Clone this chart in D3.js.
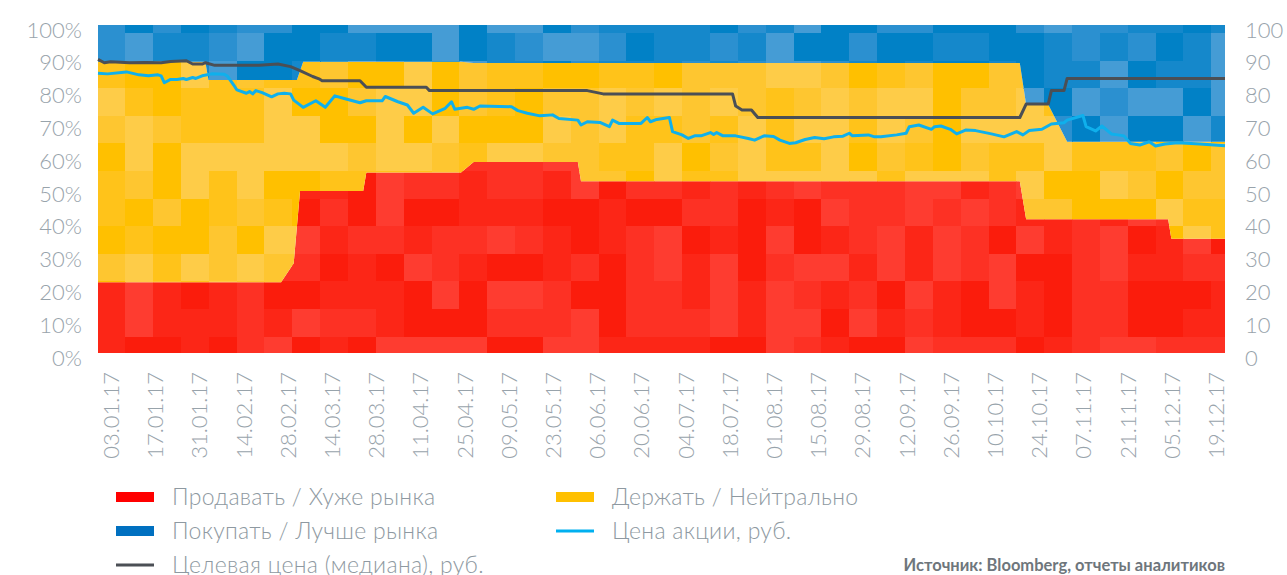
<!DOCTYPE html>
<html>
<head>
<meta charset="utf-8">
<script src="https://cdn.jsdelivr.net/npm/d3@7"></script>
<style>
  body { margin: 0; background: #fff; }
  text { font-family: Lato, 'Open Sans', sans-serif; }
</style>
</head>
<body>
<svg id="chart" width="1287" height="575"></svg>
<script>
const WIDTH = 1287;
const HEIGHT = 575;
const margin = { top: 25, right: 62, bottom: 222, left: 98 };

// Распределение рекомендаций, %
const ratingDates = ['2016-12-30', '2017-02-02', '2017-02-03', '2017-02-26', '2017-03-02', '2017-03-03',
  '2017-03-04', '2017-03-05', '2017-03-24', '2017-03-25', '2017-04-24', '2017-04-28', '2017-05-31',
  '2017-06-01', '2017-10-18', '2017-10-20', '2017-10-27', '2017-11-02', '2017-12-04', '2017-12-05', '2017-12-22'];
const sellPct = [21.6, 21.6, 21.6, 21.6, 27.4, 38.4, 49.4, 49.4, 49.4, 55.0, 55.0, 58.2, 58.2,
  52.4, 52.4, 40.8, 40.8, 40.8, 40.8, 34.8, 34.8];
const holdPct = [67.2, 67.2, 61.6, 61.6, 55.8, 44.8, 36.6, 39.4, 39.4, 33.8, 33.8, 30.2, 30.2,
  36.0, 36.0, 35.0, 35.0, 23.6, 23.6, 29.6, 29.6];
const buyPct = [11.2, 11.2, 16.8, 16.8, 16.8, 16.8, 14.0, 11.2, 11.2, 11.2, 11.2, 11.6, 11.6,
  11.6, 11.6, 24.2, 24.2, 35.6, 35.6, 35.6, 35.6];

// Цена акции, руб.
const priceDates = ['2016-12-30', '2017-01-02', '2017-01-08', '2017-01-12', '2017-01-15', '2017-01-18',
  '2017-01-19', '2017-01-20', '2017-01-22', '2017-01-24', '2017-01-26', '2017-01-27', '2017-01-29',
  '2017-01-30', '2017-02-01', '2017-02-04', '2017-02-08', '2017-02-09', '2017-02-11', '2017-02-12',
  '2017-02-15', '2017-02-16', '2017-02-17', '2017-02-18', '2017-02-20', '2017-02-23', '2017-02-25',
  '2017-02-27', '2017-03-01', '2017-03-02', '2017-03-05', '2017-03-09', '2017-03-12', '2017-03-15',
  '2017-03-18', '2017-03-23', '2017-03-25', '2017-03-30', '2017-03-31', '2017-04-04', '2017-04-07',
  '2017-04-09', '2017-04-12', '2017-04-15', '2017-04-19', '2017-04-21', '2017-04-22', '2017-04-26',
  '2017-04-28', '2017-04-30', '2017-05-10', '2017-05-12', '2017-05-15', '2017-05-19', '2017-05-23',
  '2017-05-25', '2017-05-31', '2017-06-01', '2017-06-03', '2017-06-07', '2017-06-10', '2017-06-11',
  '2017-06-13', '2017-06-20', '2017-06-22', '2017-06-23', '2017-06-25', '2017-06-29', '2017-06-30',
  '2017-07-03', '2017-07-05', '2017-07-07', '2017-07-09', '2017-07-12', '2017-07-13', '2017-07-14',
  '2017-07-16', '2017-07-20', '2017-07-24', '2017-07-26', '2017-07-29', '2017-08-01', '2017-08-03',
  '2017-08-06', '2017-08-08', '2017-08-11', '2017-08-14', '2017-08-17', '2017-08-20', '2017-08-23',
  '2017-08-25', '2017-08-26', '2017-08-31', '2017-09-02', '2017-09-04', '2017-09-09', '2017-09-12',
  '2017-09-13', '2017-09-16', '2017-09-20', '2017-09-21', '2017-09-23', '2017-09-26', '2017-09-28',
  '2017-10-01', '2017-10-04', '2017-10-09', '2017-10-13', '2017-10-17', '2017-10-19', '2017-10-21',
  '2017-10-25', '2017-10-28', '2017-11-01', '2017-11-02', '2017-11-07', '2017-11-08', '2017-11-11',
  '2017-11-13', '2017-11-16', '2017-11-18', '2017-11-20', '2017-11-22', '2017-11-25', '2017-11-28',
  '2017-11-30', '2017-12-03', '2017-12-07', '2017-12-14', '2017-12-22'];
const priceValues = [85.3, 85.1, 85.7, 84.8, 84.5, 84.8,
  84.5, 82.4, 83.4, 83.4, 83.7, 83.4, 84.0,
  83.7, 84.5, 85.1, 85.0, 84.4, 81.7, 80.2,
  79.2, 79.7, 79.0, 80.0, 79.4, 78.1, 79.0,
  79.2, 79.0, 77.1, 74.9, 76.9, 74.9, 78.4,
  77.6, 76.3, 76.9, 76.9, 78.2, 76.6, 75.6,
  73.1, 74.9, 72.9, 74.6, 76.6, 74.3, 74.9,
  74.3, 75.3, 75.1, 73.9, 73.1, 72.3, 72.6,
  71.5, 71.0, 69.5, 70.5, 70.3, 69.0, 71.0,
  70.0, 70.0, 71.8, 70.5, 71.2, 71.8, 67.5,
  66.5, 65.4, 66.2, 66.2, 67.2, 66.6, 67.2,
  66.2, 66.2, 65.4, 64.9, 66.2, 66.0, 64.9,
  63.9, 64.1, 65.1, 65.7, 65.3, 65.9, 66.1,
  67.0, 66.2, 66.5, 65.9, 65.9, 66.5, 67.0,
  69.0, 69.5, 68.2, 69.0, 69.2, 68.2, 66.8,
  68.0, 67.8, 66.8, 65.9, 67.5, 66.5, 67.8,
  68.2, 69.8, 70.2, 71.0, 72.4, 69.0, 67.7,
  69.2, 66.8, 66.5, 66.2, 63.9, 63.4, 64.4,
  63.1, 63.7, 64.1, 63.7, 63.2];

// Целевая цена (медиана), руб.
const targetDates = ['2016-12-30', '2017-01-01', '2017-01-03', '2017-01-09', '2017-01-14', '2017-01-19',
  '2017-01-22', '2017-01-27', '2017-01-29', '2017-02-01', '2017-02-02', '2017-02-05', '2017-02-19',
  '2017-02-25', '2017-03-01', '2017-03-04', '2017-03-08', '2017-03-10', '2017-03-11', '2017-03-23',
  '2017-03-25', '2017-04-13', '2017-04-14', '2017-06-03', '2017-06-08', '2017-07-19', '2017-07-20',
  '2017-07-22', '2017-07-25', '2017-07-27', '2017-10-18', '2017-10-20', '2017-10-27', '2017-10-28',
  '2017-11-01', '2017-11-02', '2017-12-22'];
const targetValues = [89.5, 88.5, 88.8, 88.5, 88.6, 88.5,
  88.9, 89.1, 88.1, 88.1, 88.5, 87.7, 87.7,
  88.1, 87.3, 86.1, 84.3, 83.6, 83.0, 83.0,
  81.0, 81.0, 80.0, 80.0, 79.0, 79.0, 75.3,
  74.1, 74.1, 71.8, 71.8, 75.9, 75.9, 80.0,
  80.0, 83.7, 83.7];

const tickDates = ['2017-01-03', '2017-01-17', '2017-01-31', '2017-02-14', '2017-02-28', '2017-03-14',
  '2017-03-28', '2017-04-11', '2017-04-25', '2017-05-09', '2017-05-23', '2017-06-06', '2017-06-20',
  '2017-07-04', '2017-07-18', '2017-08-01', '2017-08-15', '2017-08-29', '2017-09-12', '2017-09-26',
  '2017-10-10', '2017-10-24', '2017-11-07', '2017-11-21', '2017-12-05', '2017-12-19'];
const yTicks = [0, 10, 20, 30, 40, 50, 60, 70, 80, 90, 100];

const seriesKeys = ['sell', 'hold', 'buy'];
const legendLabels = ['Продавать / Хуже рынка', 'Держать / Нейтрально', 'Покупать / Лучше рынка',
  'Цена акции, руб.', 'Целевая цена (медиана), руб.'];
const sourceText = 'Источник: Bloomberg, отчеты аналитиков';

const SHADES = {
  sell: ['#fb1c0c', '#fc2617', '#fd3124', '#fe3c30'],
  hold: ['#ffc000', '#ffc31a', '#fec630', '#fecc48'],
  buy: ['#0181c6', '#1588cb', '#2b90d0', '#459cd5'],
};
const PRICE_COLOR = '#0fb0ec';
const TARGET_COLOR = '#4b4f55';
const LABEL_COLOR = '#98a3ab';

const parse = d3.timeParse('%Y-%m-%d');
const fmt = d3.timeFormat('%d.%m.%y');

const svg = d3.select('#chart');

const x = d3.scaleTime()
  .domain([parse('2016-12-30'), parse('2017-12-22')])
  .range([margin.left, WIDTH - margin.right]);
const y = d3.scaleLinear().domain([0, 100]).range([HEIGHT - margin.bottom, margin.top]);
const yRight = d3.scaleLinear().domain([0, 100]).range([HEIGHT - margin.bottom, margin.top]);

const table = ratingDates.map((d, i) => ({
  date: parse(d), sell: sellPct[i], hold: holdPct[i], buy: buyPct[i],
}));
const stacked = d3.stack().keys(seriesKeys)(table);

const area = d3.area()
  .x(d => x(d.data.date))
  .y0(d => y(d[0]))
  .y1(d => y(d[1]));

// мозаичная заливка: сетка квадратов разных оттенков, обрезанная по области
const cellW = 27.85;
const cellH = 27.6;
const gridX0 = 97.3;
const gridY0 = 33 - cellH;
const nCols = Math.ceil((WIDTH - margin.right - gridX0) / cellW);
const nRows = Math.ceil((HEIGHT - margin.bottom - gridY0) / cellH);

function shadeIndex(c, r, s) {
  let h = Math.imul(c + 11, 73856093) ^ Math.imul(r + 7, 19349663) ^ Math.imul(s + 3, 83492791);
  h = Math.imul(h ^ (h >>> 13), 1274126177);
  return ((h ^ (h >>> 16)) >>> 0) % 4;
}

const cells = [];
for (let c = 0; c < nCols; c++) {
  for (let r = 0; r < nRows; r++) cells.push({ c, r });
}

const defs = svg.append('defs');

stacked.forEach((layer, s) => {
  defs.append('clipPath')
    .attr('id', `clip-${layer.key}`)
    .append('path')
    .attr('d', area(layer));

  svg.append('g')
    .attr('class', `layer ${layer.key}`)
    .attr('clip-path', `url(#clip-${layer.key})`)
    .selectAll('rect')
    .data(cells)
    .enter()
    .append('rect')
    .attr('x', d => gridX0 + d.c * cellW)
    .attr('y', d => gridY0 + d.r * cellH)
    .attr('width', cellW + 0.5)
    .attr('height', cellH + 0.5)
    .attr('shape-rendering', 'crispEdges')
    .attr('fill', d => SHADES[layer.key][shadeIndex(d.c, d.r, s)]);
});

// линии цены
const priceData = priceDates.map((d, i) => ({ date: parse(d), value: priceValues[i] }));
const targetData = targetDates.map((d, i) => ({ date: parse(d), value: targetValues[i] }));

const line = d3.line()
  .x(d => x(d.date))
  .y(d => yRight(d.value));

svg.append('path')
  .datum(targetData)
  .attr('fill', 'none')
  .attr('stroke', TARGET_COLOR)
  .attr('stroke-width', 3)
  .attr('stroke-linejoin', 'round')
  .attr('d', line);

svg.append('path')
  .datum(priceData)
  .attr('fill', 'none')
  .attr('stroke', PRICE_COLOR)
  .attr('stroke-width', 3)
  .attr('stroke-linejoin', 'round')
  .attr('d', line);

// оси
const styleAxis = g => {
  g.select('.domain').remove();
  g.selectAll('text')
    .attr('fill', LABEL_COLOR)
    .style('font-size', '22px')
    .style('font-weight', 300);
};

svg.append('g')
  .attr('transform', `translate(${margin.left},0)`)
  .call(d3.axisLeft(y).tickValues(yTicks).tickFormat(d => `${d}%`).tickSize(0).tickPadding(16))
  .call(styleAxis)
  .selectAll('text')
  .attr('dy', '0.55em');

svg.append('g')
  .attr('transform', `translate(${WIDTH - margin.right},0)`)
  .call(d3.axisRight(yRight).tickValues(yTicks).tickSize(0).tickPadding(20))
  .call(styleAxis)
  .selectAll('text')
  .attr('dy', '0.55em');

svg.append('g')
  .attr('transform', `translate(0,${HEIGHT - margin.bottom})`)
  .call(d3.axisBottom(x).tickValues(tickDates.map(parse)).tickFormat(fmt).tickSize(0))
  .call(styleAxis)
  .selectAll('text')
  .attr('transform', 'rotate(-90)')
  .attr('x', -19)
  .attr('y', 0)
  .attr('dy', '0.36em')
  .style('text-anchor', 'end');

// легенда
const legendItems = [
  { label: legendLabels[0], type: 'rect', color: '#ff0000', col: 0, row: 0 },
  { label: legendLabels[1], type: 'rect', color: '#ffc000', col: 1, row: 0 },
  { label: legendLabels[2], type: 'rect', color: '#0070c0', col: 0, row: 1 },
  { label: legendLabels[3], type: 'line', color: '#00b0f0', col: 1, row: 1 },
  { label: legendLabels[4], type: 'line', color: TARGET_COLOR, col: 0, row: 2 },
];

const legend = svg.append('g').attr('class', 'legend');
const item = legend.selectAll('g')
  .data(legendItems)
  .enter()
  .append('g')
  .attr('transform', d => `translate(${116 + d.col * 440},${497 + d.row * 34})`);

item.append('rect')
  .attr('x', 0)
  .attr('y', d => (d.type === 'rect' ? -5 : -1.5))
  .attr('width', 38)
  .attr('height', d => (d.type === 'rect' ? 10 : 3))
  .attr('fill', d => d.color);

item.append('text')
  .attr('x', 56)
  .attr('y', 0)
  .attr('dy', '0.36em')
  .attr('fill', '#8e99a1')
  .style('font-size', '23px')
  .style('letter-spacing', '0.3px')
  .style('font-weight', 300)
  .text(d => d.label);

svg.append('text')
  .attr('x', WIDTH - margin.right)
  .attr('y', 571)
  .attr('text-anchor', 'end')
  .attr('fill', '#6e767c')
  .style('font-size', '16.5px')
  .style('font-weight', 700)
  .text(sourceText);
</script>
</body>
</html>
